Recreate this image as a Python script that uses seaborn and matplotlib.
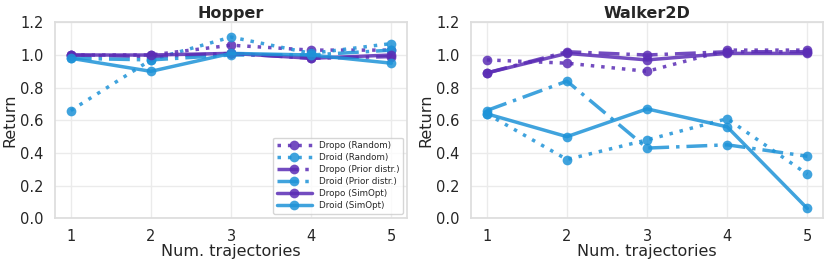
import matplotlib
matplotlib.use('Agg')
import matplotlib.pyplot as plt
import seaborn as sns
import pandas as pd

trajectories = [1, 2, 3, 4, 5]

# Hopper
hopper_dropo_random = [1.00, 1.00, 1.06, 1.03, 1.03]
hopper_droid_random = [0.66, 0.97, 1.11, 1.01, 1.07]
hopper_dropo_prior = [1.00, 0.99, 1.01, 0.98, 0.99]
hopper_droid_prior = [0.98, 0.97, 1.00, 1.00, 1.03]
hopper_dropo_simopt = [1.00, 1.00, 1.01, 0.98, 1.00]
hopper_droid_simopt = [0.98, 0.90, 1.01, 1.00, 0.95]

# Walker2D
walker_dropo_random = [0.97, 0.95, 0.90, 1.03, 1.03]
walker_droid_random = [0.64, 0.36, 0.48, 0.61, 0.27]
walker_dropo_prior = [0.89, 1.02, 1.00, 1.02, 1.02]
walker_droid_prior = [0.66, 0.84, 0.43, 0.45, 0.38]
walker_dropo_simopt = [0.89, 1.01, 0.97, 1.01, 1.01]
walker_droid_simopt = [0.64, 0.50, 0.67, 0.56, 0.06]

labels = ['Dropo (Random)', 'Droid (Random)', 'Dropo (Prior distr.)',
          'Droid (Prior distr.)', 'Dropo (SimOpt)', 'Droid (SimOpt)']

DROPO = '#5b2db5'
DROID = '#1e93d8'
colors = [DROPO, DROID, DROPO, DROID, DROPO, DROID]
dotted = (0, (1, 2))
dashdot = (0, (6, 2, 1, 2))
styles = [dotted, dotted, dashdot, dashdot, '-', '-']

panels = {
    'Hopper': [hopper_dropo_random, hopper_droid_random, hopper_dropo_prior,
               hopper_droid_prior, hopper_dropo_simopt, hopper_droid_simopt],
    'Walker2D': [walker_dropo_random, walker_droid_random, walker_dropo_prior,
                 walker_droid_prior, walker_dropo_simopt, walker_droid_simopt],
}

sns.set_theme(style='whitegrid', rc={'grid.color': '#ebebeb', 'axes.edgecolor': '#dddddd'})
plt.rcParams['font.family'] = ['DejaVu Sans']

fig, axes = plt.subplots(1, 2, figsize=(8.3, 2.63), dpi=100)

for ax, (title, series) in zip(axes, panels.items()):
    for vals, lab, col, ls in zip(series, labels, colors, styles):
        df = pd.DataFrame({'x': trajectories, 'y': vals})
        sns.lineplot(data=df, x='x', y='y', ax=ax, color=col, linestyle=ls,
                     linewidth=2.5, marker='o', markersize=7, markeredgewidth=0,
                     alpha=0.85, label=lab)
    ax.set_title(title, fontsize=11.5, fontweight='bold', pad=3)
    ax.set_xlabel('Num. trajectories', fontsize=11.5, labelpad=0)
    ax.set_ylabel('Return', fontsize=11.5, labelpad=2)
    ax.set_ylim(0, 1.2)
    ax.set_xlim(0.8, 5.2)
    ax.set_xticks(trajectories)
    ax.set_yticks([0.0, 0.2, 0.4, 0.6, 0.8, 1.0, 1.2])
    ax.tick_params(labelsize=10.5, pad=2)

axes[0].legend(loc='lower right', fontsize=6.3, frameon=True, handlelength=4,
               borderpad=0.4, labelspacing=0.35)
axes[1].get_legend().remove()

fig.subplots_adjust(left=0.066, right=0.992, top=0.915, bottom=0.17, wspace=0.18)
fig.savefig('out.png', dpi=100)
